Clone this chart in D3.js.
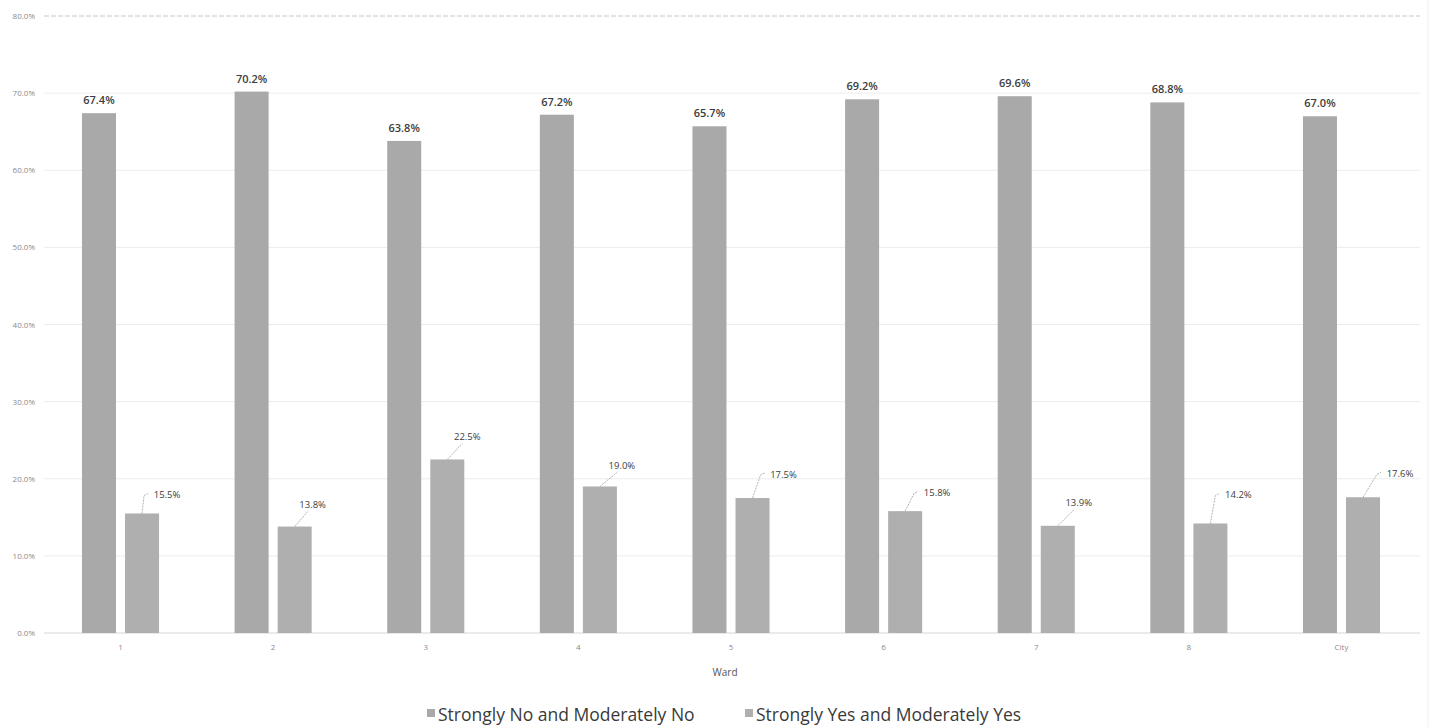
<!DOCTYPE html>
<html>
<head>
<meta charset="utf-8">
<script src="https://cdn.jsdelivr.net/npm/d3@7"></script>
<style>
  html, body { margin: 0; padding: 0; background: #fff; }
  svg { display: block; }
</style>
</head>
<body>
<svg id="chart" width="1438" height="727"></svg>
<script>
// ---- data ----
const categories = ["1", "2", "3", "4", "5", "6", "7", "8", "City"];
const seriesNames = ["Strongly No and Moderately No", "Strongly Yes and Moderately Yes"];
const noValues = [67.4, 70.2, 63.8, 67.2, 65.7, 69.2, 69.6, 68.8, 67.0];
const yesValues = [15.5, 13.8, 22.5, 19.0, 17.5, 15.8, 13.9, 14.2, 17.6];
const yTicks = [0, 10, 20, 30, 40, 50, 60, 70, 80];
const xTitle = "Ward";
// callout offsets (label centre relative to bar top centre) for the "Yes" labels
const yesLabelDx = [25, 18, 20, 22, 31, 32, 21, 28, 37];
const yesLabelDy = [-19, -22, -23, -21, -24, -19, -23, -29, -24];

// ---- layout ----
const svg = d3.select("#chart");
const colors = ["#a9a9a9", "#afafaf"];
const font = "'Open Sans', 'Liberation Sans', sans-serif";

const x0 = d3.scaleBand().domain(categories).range([44.2, 1417.8]).paddingInner(0.495).paddingOuter(0.2475);
const x1 = d3.scaleBand().domain([0, 1]).range([0, x0.bandwidth()]).paddingInner(0.21);
const y = d3.scaleLinear().domain([0, 80]).range([633, 16]);

// gridlines
const grid = svg.append("g");
grid.selectAll("line").data(yTicks).join("line")
  .attr("x1", 44).attr("x2", 1420)
  .attr("y1", d => y(d)).attr("y2", d => y(d))
  .attr("stroke", d => d === 0 ? "#d6d6d6" : (d === 80 ? "#c8c8c8" : "#ececec"))
  .attr("stroke-width", 1)
  .attr("stroke-dasharray", d => d === 80 ? "5,2" : null);

// faint right border
svg.append("line").attr("x1", 1428).attr("x2", 1428).attr("y1", 0).attr("y2", 727)
  .attr("stroke", "#f0f0f0");

// y axis labels
const yAxis = d3.axisLeft(y).tickValues(yTicks).tickFormat(d => d.toFixed(1) + "%").tickSize(0).tickPadding(0);
const yg = svg.append("g").attr("transform", "translate(35,0)").call(yAxis);
yg.select(".domain").remove();
yg.selectAll("text").attr("fill", "#8a8a8a").style("font-family", font).style("font-size", "8px");

// x axis labels
const xAxis = d3.axisBottom(x0).tickSize(0).tickPadding(0);
const xg = svg.append("g").attr("transform", "translate(0,644)").call(xAxis);
xg.select(".domain").remove();
xg.selectAll("text").attr("fill", "#8a8a8a").style("font-family", font).style("font-size", "8px");

svg.append("text").attr("x", (x0.range()[0] + x0.range()[1]) / 2 - 6).attr("y", 676)
  .attr("text-anchor", "middle").attr("fill", "#555").style("font-family", font).style("font-size", "10px")
  .text(xTitle);

// bars
const rows = categories.map((c, i) => ({ c, i, vals: [noValues[i], yesValues[i]] }));
const groups = svg.append("g").selectAll("g").data(rows).join("g")
  .attr("transform", d => `translate(${x0(d.c)},0)`);
groups.selectAll("rect").data(d => d.vals.map((v, s) => ({ v, s }))).join("rect")
  .attr("x", d => x1(d.s)).attr("width", x1.bandwidth())
  .attr("y", d => y(d.v)).attr("height", d => y(0) - y(d.v))
  .attr("fill", d => colors[d.s]);

// "No" labels
svg.append("g").selectAll("text").data(rows).join("text")
  .attr("x", d => x0(d.c) + x1(0) + x1.bandwidth() / 2)
  .attr("y", d => y(d.vals[0]) - 9)
  .attr("text-anchor", "middle")
  .attr("fill", "#3c3c3c").style("font-family", font).style("font-size", "11px").style("font-weight", 600)
  .text(d => d.vals[0].toFixed(1) + "%");

// "Yes" labels with leader lines
const lab = svg.append("g");
rows.forEach(d => {
  const cx = x0(d.c) + x1(1) + x1.bandwidth() / 2;
  const top = y(d.vals[1]);
  const lx = cx + yesLabelDx[d.i];
  const ly = top + yesLabelDy[d.i];
  const left = lx - 15;
  let pts;
  if (left - cx > 8) {
    pts = [[cx, top], [left - 8, ly + 1], [left - 4, ly - 1]];
  } else {
    pts = [[cx, top], [lx - 5, ly + 7]];
  }
  lab.append("path").attr("d", d3.line()(pts))
    .attr("fill", "none").attr("stroke", "#a0a0a0").attr("stroke-width", 0.8)
    .attr("stroke-dasharray", "2,1");
  lab.append("text").attr("x", lx).attr("y", ly + 3.5).attr("text-anchor", "middle")
    .attr("fill", "#3c3c3c").style("font-family", font).style("font-size", "9.5px").style("font-weight", 500)
    .text(d.vals[1].toFixed(1) + "%");
});

// legend
const legendX = [427, 745];
const lg = svg.append("g");
seriesNames.forEach((n, s) => {
  lg.append("rect").attr("x", legendX[s]).attr("y", 709).attr("width", 8).attr("height", 8).attr("fill", colors[s]);
  lg.append("text").attr("x", legendX[s] + 11).attr("y", 721)
    .attr("fill", "#3a3a3a").style("font-family", font).style("font-size", "17.5px")
    .text(n);
});
</script>
</body>
</html>
